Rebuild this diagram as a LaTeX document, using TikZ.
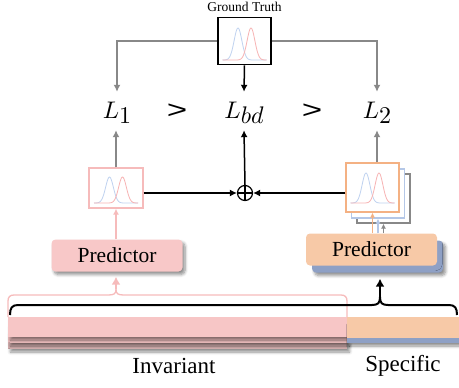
\documentclass[tikz,border=0pt]{standalone}
\usepackage{fontspec}
\setmainfont{Liberation Serif}
\newfontfamily\sansf{Liberation Sans}
\usetikzlibrary{arrows.meta,shadows.blur,calc}
\definecolor{pinkf}{HTML}{F8C8C8}
\definecolor{pinkbar}{HTML}{F7C6C6}
\definecolor{pinkb}{HTML}{F6BBBB}
\definecolor{orangef}{HTML}{F7C9A7}
\definecolor{orangeb}{HTML}{F4B183}
\definecolor{blueb}{HTML}{B4C7E7}
\definecolor{bluef}{HTML}{8EA0C5}
\definecolor{grayl}{HTML}{888888}
\definecolor{cblue}{HTML}{BFD2F0}
\definecolor{cred}{HTML}{F7B3B3}
\tikzset{
  pics/curves/.style 2 args={code={
    \draw[cblue,line width=0.8pt] plot[domain=-22:22,samples=70] (\x,{#1-#2*exp(-((\x+6.5)^2)/30)});
    \draw[cred,line width=0.8pt] plot[domain=-22:22,samples=70] (\x,{#1-#2*exp(-((\x-6.5)^2)/30)});
  }},
  lab/.style={anchor=base, font=\normalsize, text height=15pt, text depth=1pt, inner ysep=11pt, inner xsep=0pt},
  garr/.style={draw=grayl, line width=1.5pt, -{Latex[length=7pt,width=7pt]}},
  barr/.style={draw=black, line width=1.5pt, -{Latex[length=7pt,width=7pt]}},
  fbox/.style={draw, fill=white, line width=1.3pt, inner sep=0pt},
  pshadow/.style={blur shadow={shadow xshift=2.5pt, shadow yshift=-3pt, shadow blur steps=6, shadow opacity=45, shadow blur radius=3pt}},
  pred/.style={rounded corners=4pt, minimum width=131pt, minimum height=32pt, inner sep=0pt, font=\fontsize{21.5}{24}\selectfont, pshadow},
}
\newcommand\Lsub[1]{\scalebox{2.4}{$L\lower2.2pt\hbox{$#1$}$}}
\newcommand\gtsym{{\sansf\fontsize{25}{28}\selectfont\scalebox{1.4}[1]{>}}}
\begin{document}
\begin{tikzpicture}[x=1pt,y=-1pt]
\useasboundingbox (0,0) rectangle (459,388);

% bars
\fill[pinkbar!85!black!90, pshadow] (8,331) rectangle (347,349);
\fill[pinkbar!95!black, pshadow] (8,324) rectangle (347,343);
\fill[pinkbar, pshadow] (8,317) rectangle (347,337);
\fill[bluef, pshadow] (347,322) rectangle (459,343);
\fill[orangef] (347,317) rectangle (459,338);

% texts below
\node[font=\fontsize{23}{26}\selectfont] (inv) at (174,366) {Invariant};
\node[font=\fontsize{23}{26}\selectfont] (spec) at (403,366) {Specific};

% braces
\coordinate (pk1) at (116,289);
\coordinate (pk2) at (380,297);
\draw[pinkb, line width=1.3pt] (8,317) -- (8,301) .. controls (8,297) and (10,295) .. (14,295) -- (108,295) .. controls (114,295) and (116,294) .. (pk1)
  .. controls (116,294) and (118,295) .. (124,295) -- (341,295) .. controls (345,295) and (347,297) .. (347,301) -- (347,317);
\draw[black, line width=2pt] (10,315) .. controls (10,308) and (12,305) .. (18,305) -- (372,305) .. controls (378,305) and (380,303) .. (pk2)
  .. controls (380,303) and (382,305) .. (388,305) -- (449,305) .. controls (455,305) and (457,308) .. (457,315);

% predictors
\node[pred, fill=pinkf] (lp) at (117,255.5) {Predictor};
\node[pred, fill=bluef] (bp) at (377.5,256.5) {};
\node[pred, fill=orangef, blur shadow={shadow opacity=0}] (rp) at (371.5,249.5) {Predictor};

\draw[pinkb, line width=1.5pt, -{Latex[length=8pt,width=9pt]}] (pk1) -- ($(pk1 |- lp.south)+(0,5)$);
\draw[black, line width=1.5pt, -{Latex[length=8pt,width=9pt]}] (pk2) -- ($(pk2 |- bp.south)+(0,6)$);

% ground truth
\node[font=\fontsize{13.5}{15}\selectfont] (gtl) at (244.5,7) {Ground Truth};
\node[fbox, draw=black, line width=1.7pt, minimum width=53pt, minimum height=47pt] (gt) at (244.5,41) {};
\pic at (gt.center) {curves={19}{32}};

% loss labels
\node[lab] (l1) at (117,118) {\Lsub{1}};
\node[lab] (g1) at (177,118) {\gtsym};
\node[lab] (lbd) at (244,118) {\Lsub{bd}};
\node[lab] (g2) at (312,118) {\gtsym};
\node[lab] (l2) at (377,118) {\Lsub{2}};

\draw[garr] (gt.west) -| (l1.north);
\draw[garr] (gt.east) -| (l2.north);
\draw[barr] (gt.south) -- (lbd.north);

% prediction boxes
\node[fbox, draw=pinkb, minimum width=54pt, minimum height=40pt] (lb) at (116,188) {};
\pic at (lb.center) {curves={15}{26}};
\node[fbox, draw=grayl, minimum width=53pt, minimum height=49pt] (gb) at (383.5,198.5) {};
\node[fbox, draw=blueb, minimum width=53pt, minimum height=49pt] (bb) at (378,193.5) {};
\node[fbox, draw=orangeb, minimum width=53pt, minimum height=49pt] (ob) at (372.5,187.5) {};
\pic at (ob.center) {curves={15.5}{30}};

% oplus
\node[circle, draw, line width=1.2pt, minimum size=15pt, inner sep=0pt] (op) at (245,193) {};
\draw[line width=1.2pt] (op.north) -- (op.south) (op.west) -- (op.east);

\draw[barr] (lb.east |- op.west) -- (op.west);
\draw[barr] (ob.west |- op.east) -- (op.east);
\draw[barr] (op.north) -- (lbd.south);
\draw[garr] (lb.north) -- (lb.north |- l1.south);
\draw[garr] (l2.south |- ob.north) -- (l2.south);

% small arrows from predictors
\draw[pinkb, line width=1.5pt, -{Latex[length=6pt,width=6pt]}] (lb.south |- lp.north) -- (lb.south);
\draw[orangeb, line width=1.3pt, -{Latex[length=5pt,width=5pt]}] (ob.south |- rp.north) -- (ob.south);
\draw[blueb, line width=1.3pt, -{Latex[length=5pt,width=5pt]}] (bb.south |- rp.north) -- (bb.south);
\draw[grayl, line width=1.3pt, -{Latex[length=5pt,width=5pt]}] (gb.south |- rp.north) -- (gb.south);
\end{tikzpicture}
\end{document}
